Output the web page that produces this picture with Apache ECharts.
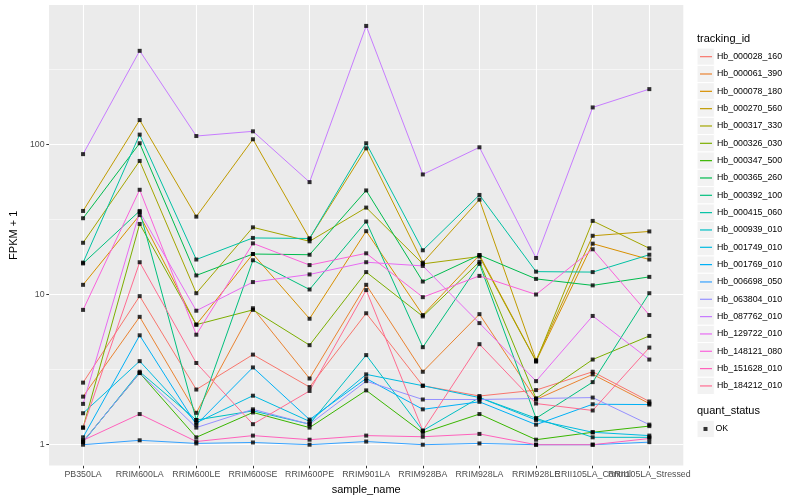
<!DOCTYPE html>
<html><head><meta charset="utf-8">
<script src="https://cdn.jsdelivr.net/npm/echarts@6/dist/echarts.min.js"></script>
<style>html,body{margin:0;padding:0;background:#fff}#c{width:800px;height:500px}</style>
</head><body><div id="c"></div>
<script>
const categories = ['PB350LA','RRIM600LA','RRIM600LE','RRIM600SE','RRIM600PE','RRIM901LA','RRIM928BA','RRIM928LA','RRIM928LE','RRII105LA_Control','RRII105LA_Stressed'];
const trackingIds = ['Hb_000028_160','Hb_000061_390','Hb_000078_180','Hb_000270_560','Hb_000317_330','Hb_000326_030','Hb_000347_500','Hb_000365_260','Hb_000392_100','Hb_000415_060','Hb_000939_010','Hb_001749_010','Hb_001769_010','Hb_006698_050','Hb_063804_010','Hb_087762_010','Hb_129722_010','Hb_148121_080','Hb_151628_010','Hb_184212_010'];
const Hb_000028_160 = [2.59, 9.75, 2.33, 3.98, 2.42, 7.5, 2.47, 2.11, 2.31, 3.06, 1.94];
const Hb_000061_390 = [2.09, 7.1, 1.63, 8.1, 2.76, 11.6, 3.06, 7.4, 2.0, 2.94, 1.88];
const Hb_000078_180 = [11.6, 33.8, 6.3, 18.6, 6.9, 26.4, 7.3, 18.3, 3.6, 21.8, 17.1];
const Hb_000270_560 = [36, 145, 33, 108, 23.6, 94, 16.3, 42.8, 3.65, 24.6, 26.3];
const Hb_000317_330 = [22.1, 77.5, 10.2, 28.0, 22.6, 37.9, 16.0, 17.9, 3.58, 30.9, 20.3];
const Hb_000326_030 = [1.30, 29.5, 6.3, 7.9, 4.6, 14.1, 7.15, 16.5, 2.03, 3.69, 5.3];
const Hb_000347_500 = [1.05, 3.0, 1.12, 1.64, 1.30, 2.3, 1.2, 1.6, 1.08, 1.21, 1.33];
const Hb_000365_260 = [32.2, 101.6, 13.4, 18.6, 18.4, 49.3, 12.2, 18.3, 12.7, 11.5, 13.1];
const Hb_000392_100 = [16.1, 36, 1.46, 16.9, 10.8, 30.6, 4.46, 16.0, 1.5, 2.61, 10.2];
const Hb_000415_060 = [16.3, 116, 17.1, 23.8, 23.6, 101.6, 19.7, 46, 14.2, 14.1, 18.4];
const Hb_000939_010 = [1.04, 3.06, 1.46, 1.68, 1.37, 3.95, 1.24, 2.06, 1.5, 1.12, 1.12];
const Hb_001749_010 = [1.62, 3.6, 1.40, 2.12, 1.43, 2.94, 2.47, 2.06, 1.46, 1.21, 1.15];
const Hb_001769_010 = [1.12, 5.35, 1.36, 3.27, 1.47, 2.76, 1.72, 1.93, 1.36, 1.86, 1.85];
const Hb_006698_050 = [1.0, 1.07, 1.02, 1.035, 1.0, 1.05, 1.0, 1.02, 1.0, 1.0, 1.04];
const Hb_063804_010 = [1.05, 3.0, 1.30, 1.72, 1.37, 2.65, 2.0, 2.0, 2.03, 2.06, 1.36];
const Hb_087762_010 = [86, 419, 113.5, 122, 56, 614, 63, 95.5, 17.5, 176, 233];
const Hb_129722_010 = [1.87, 35.4, 7.8, 12.1, 13.6, 16.4, 15.5, 6.45, 2.65, 7.2, 3.69];
const Hb_148121_080 = [7.9, 49.8, 5.4, 21.9, 15.7, 18.8, 9.6, 13.3, 10.0, 20.0, 7.3];
const Hb_151628_010 = [1.07, 1.60, 1.05, 1.15, 1.08, 1.15, 1.13, 1.18, 1.0, 1.0, 1.1];
const Hb_184212_010 = [1.3, 16.4, 3.5, 1.37, 2.28, 10.7, 1.24, 4.67, 1.88, 1.69, 4.43];
const seriesValues = [Hb_000028_160, Hb_000061_390, Hb_000078_180, Hb_000270_560, Hb_000317_330, Hb_000326_030, Hb_000347_500, Hb_000365_260, Hb_000392_100, Hb_000415_060, Hb_000939_010, Hb_001749_010, Hb_001769_010, Hb_006698_050, Hb_063804_010, Hb_087762_010, Hb_129722_010, Hb_148121_080, Hb_151628_010, Hb_184212_010];
const colors = ['#F8766D','#EA8331','#D89000','#C09B00','#A3A500','#7CAE00','#39B600','#00BB4E','#00BF7D','#00C1A3','#00BFC4','#00BAE0','#00B0F6','#35A2FF','#9590FF','#C77CFF','#E76BF3','#FA62DB','#FF62BC','#FF6C91'];
const yTickLabels = [1, 10, 100];
const yMinorBreaks = [3.162, 31.62, 316.2];
const quantStatus = ['OK'];

const FONT = 'Liberation Sans, Arial, Helvetica, sans-serif';
const xPos = categories.map((c, i) => i + 1);
const xPosOdd = xPos.filter(v => v % 2 === 1);
const xPosEven = xPos.filter(v => v % 2 === 0);

const chart = echarts.init(document.getElementById('c'), null, {renderer: 'canvas'});

const lineSeries = trackingIds.map((id, k) => ({
  name: id,
  type: 'line',
  z: 10,
  xAxisIndex: 0,
  data: seriesValues[k].map((v, i) => [i + 1, v]),
  showSymbol: false,
  symbol: 'none',
  lineStyle: {color: colors[k], width: 1},
  itemStyle: {color: colors[k]},
  emphasis: {disabled: true},
  silent: true,
  animation: false
}));

const gridMajor = {color: '#FFFFFF', width: 1.1, type: 'solid'};
const gridMinor = {color: '#FFFFFF', width: 0.55, type: 'solid'};
lineSeries[0].markLine = {
  silent: true,
  symbol: ['none', 'none'],
  label: {show: false},
  animation: false,
  emphasis: {disabled: true},
  data: [
    ...yMinorBreaks.map(v => ({yAxis: v, lineStyle: gridMinor})),
    ...yTickLabels.map(v => ({yAxis: v, lineStyle: gridMajor})),
    ...xPos.map(v => ({xAxis: v, lineStyle: gridMajor}))
  ]
};

const points = [];
seriesValues.forEach(arr => arr.forEach((v, i) => points.push([i + 1, v])));

const keyBoxes = [];
trackingIds.forEach((id, k) => keyBoxes.push({
  type: 'rect', z: 1, silent: true,
  shape: {x: 697, y: 48 + k * 17.33, width: 17.3, height: 17.33},
  style: {fill: '#F2F2F2', stroke: '#FFFFFF', lineWidth: 1}
}));
keyBoxes.push({
  type: 'rect', z: 1, silent: true,
  shape: {x: 697, y: 420.3, width: 17.3, height: 17.33},
  style: {fill: '#F2F2F2', stroke: '#FFFFFF', lineWidth: 1}
});

function xAxisDef(ticks, withName) {
  return {
    type: 'value', min: 0.4, max: 11.6, position: 'bottom', offset: 0,
    axisLine: {show: false},
    splitLine: {show: false},
    axisTick: {show: true, customValues: ticks, length: 2.75, lineStyle: {color: '#333333', width: 1}},
    axisLabel: {customValues: ticks, formatter: v => categories[Math.round(v) - 1], margin: 4.5, fontSize: 8.8, color: '#4D4D4D', fontFamily: FONT, hideOverlap: false, showMinLabel: true, showMaxLabel: true},
    name: withName ? 'sample_name' : '', nameLocation: 'middle', nameGap: 15,
    nameTextStyle: {fontSize: 11, color: '#000000', fontFamily: FONT}
  };
}

chart.setOption({
  animation: false,
  backgroundColor: '#FFFFFF',
  grid: {left: 40, right: 116.7, top: 5, bottom: 32, show: true, backgroundColor: '#EBEBEB', borderWidth: 0, containLabel: false},
  xAxis: [xAxisDef(xPosOdd, true), xAxisDef(xPosEven, false)],
  yAxis: {
    type: 'log', logBase: 10, min: 0.726, max: 846,
    axisLine: {show: false},
    splitLine: {show: false},
    minorSplitLine: {show: false},
    axisTick: {show: true, customValues: yTickLabels, length: 2.75, lineStyle: {color: '#333333', width: 1}},
    axisLabel: {customValues: yTickLabels, formatter: v => String(Math.round(v)), margin: 4.5, fontSize: 8.8, color: '#4D4D4D', fontFamily: FONT, showMinLabel: true, showMaxLabel: true},
    name: 'FPKM + 1', nameLocation: 'middle', nameGap: 22, nameRotate: 90,
    nameTextStyle: {fontSize: 11, color: '#000000', fontFamily: FONT}
  },
  legend: [
    {
      orient: 'vertical', left: 700, top: 48, padding: 0, itemGap: 0,
      itemWidth: 12, itemHeight: 1.2, icon: 'rect', selectedMode: false,
      data: trackingIds,
      textStyle: {fontSize: 8.8, lineHeight: 17.33, color: '#000000', fontFamily: FONT}
    },
    {
      orient: 'vertical', left: 703.5, top: 420.3, padding: 0, itemGap: 0,
      itemWidth: 4, itemHeight: 4, icon: 'rect', selectedMode: false,
      data: quantStatus,
      textStyle: {fontSize: 8.8, lineHeight: 17.33, color: '#000000', fontFamily: FONT, padding: [0, 0, 0, 3]}
    }
  ],
  graphic: [
    ...keyBoxes,
    {type: 'text', z: 2, left: 697, top: 33, silent: true, style: {text: 'tracking_id', fontSize: 11, fill: '#000000', fontFamily: FONT}},
    {type: 'text', z: 2, left: 697, top: 405.5, silent: true, style: {text: 'quant_status', fontSize: 11, fill: '#000000', fontFamily: FONT}}
  ],
  series: [
    ...lineSeries,
    {
      name: quantStatus[0], type: 'scatter', z: 11, xAxisIndex: 0,
      data: points, symbol: 'rect', symbolSize: 4,
      itemStyle: {color: '#000000'},
      emphasis: {disabled: true}, silent: true, animation: false
    }
  ]
});
</script>
</body></html>
